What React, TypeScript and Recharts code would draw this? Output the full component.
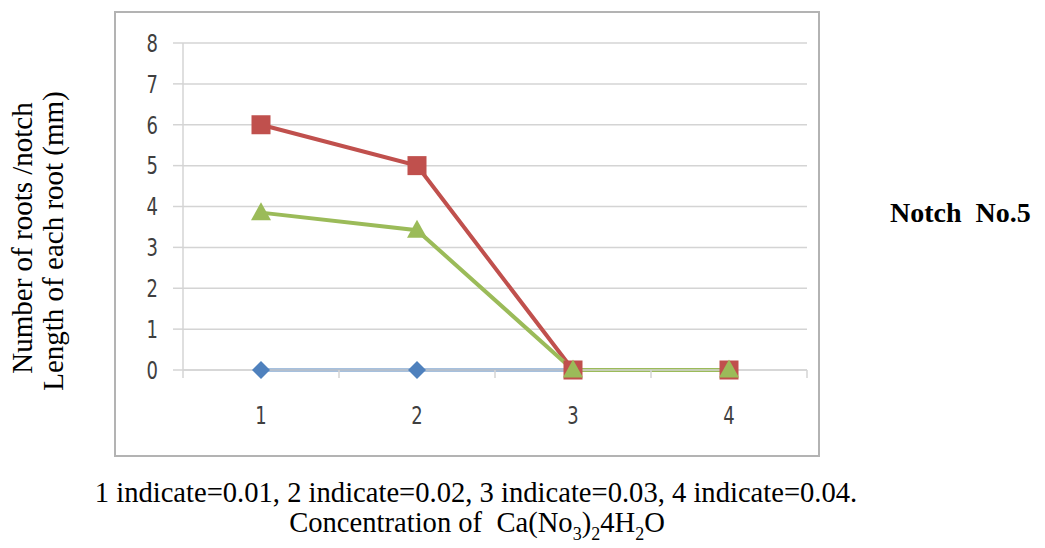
import React from 'react';
import { LineChart, Line, XAxis, YAxis, CartesianGrid } from 'recharts';

// concentration index (1 = 0.01 ... 4 = 0.04)
const concentrations = [1, 2, 3, 4];
const blueSeries = [0, 0, 0, 0];
const redSeries = [6, 5, 0, 0];
const greenSeries = [3.85, 3.42, 0, 0];
const yTicks = [0, 1, 2, 3, 4, 5, 6, 7, 8];
// integer ticks carry labels, half ticks are the band boundaries
const xTicks = [0.5, 1, 1.5, 2, 2.5, 3, 3.5, 4, 4.5];

const data = concentrations.map((c, i) => ({
  x: c,
  blue: blueSeries[i],
  red: redSeries[i],
  green: greenSeries[i],
}));

const GRID = '#d4d4d4';
const TICK_FONT = '"DejaVu Sans Condensed", "Liberation Sans Narrow", Roboto, sans-serif';
const X_MARGIN = 45;

// eslint-disable-next-line @typescript-eslint/no-explicit-any
const YTick = ({ x, y, payload }: any) => (
  <g transform={`translate(${x},${y}) scale(1,1.25)`}>
    <text x={0} y={0} textAnchor="end" dominantBaseline="central" fill="#3f3f3f" fontSize={20} fontFamily={TICK_FONT}>
      {payload.value}
    </text>
  </g>
);

// eslint-disable-next-line @typescript-eslint/no-explicit-any
const XTick = ({ x, y, payload }: any) => {
  const axisY = y - X_MARGIN;
  if (!Number.isInteger(payload.value)) {
    return <line x1={x} x2={x} y1={axisY} y2={axisY + 8} stroke={GRID} strokeWidth={1.5} />;
  }
  return (
    <g transform={`translate(${x},${y}) scale(1,1.25)`}>
      <text x={0} y={0} textAnchor="middle" dominantBaseline="central" fill="#3f3f3f" fontSize={20} fontFamily={TICK_FONT}>
        {payload.value}
      </text>
    </g>
  );
};

// eslint-disable-next-line @typescript-eslint/no-explicit-any
const Diamond = (p: any) => {
  const { cx, cy } = p;
  if (cx == null || cy == null) return <g key={p.index} />;
  return (
    <polygon
      key={p.index}
      points={`${cx},${cy - 9} ${cx + 9},${cy} ${cx},${cy + 9} ${cx - 9},${cy}`}
      fill="#4f81bd"
    />
  );
};

// eslint-disable-next-line @typescript-eslint/no-explicit-any
const Square = (p: any) => {
  const { cx, cy } = p;
  if (cx == null || cy == null) return <g key={p.index} />;
  return <rect key={p.index} x={cx - 9.5} y={cy - 9.5} width={19} height={19} fill="#c0504d" />;
};

// eslint-disable-next-line @typescript-eslint/no-explicit-any
const Triangle = (p: any) => {
  const { cx, cy } = p;
  if (cx == null || cy == null) return <g key={p.index} />;
  return (
    <polygon
      key={p.index}
      points={`${cx},${cy - 10.5} ${cx + 10},${cy + 7.5} ${cx - 10},${cy + 7.5}`}
      fill="#9bbb59"
    />
  );
};

const serif = '"Liberation Serif", "Times New Roman", serif';

export default function App() {
  return (
    <div style={{ position: 'absolute', left: 0, top: 0, width: 1045, height: 548, background: '#fff' }}>
      <div
        style={{
          position: 'absolute',
          left: 114,
          top: 11,
          width: 702,
          height: 442,
          border: '2px solid #b3b3b3',
          boxSizing: 'content-box',
        }}
      />
      <div style={{ position: 'absolute', left: 0, top: 0 }}>
        <LineChart width={1045} height={548} data={data} margin={{ top: 43, right: 238, bottom: 148, left: 123 }}>
          <CartesianGrid horizontal vertical={false} stroke={GRID} strokeWidth={1.5} />
          <XAxis
            dataKey="x"
            type="number"
            domain={[0.5, 4.5]}
            ticks={xTicks}
            interval={0}
            height={30}
            tickSize={0}
            tickMargin={X_MARGIN}
            tickLine={false}
            axisLine={{ stroke: GRID, strokeWidth: 1.5 }}
            tick={<XTick />}
          />
          <YAxis
            type="number"
            domain={[0, 8]}
            ticks={yTicks}
            interval={0}
            width={60}
            tickSize={10}
            tickMargin={15}
            tickLine={{ stroke: GRID, strokeWidth: 1.5 }}
            axisLine={{ stroke: GRID, strokeWidth: 1.5 }}
            tick={<YTick />}
          />
          <Line dataKey="blue" stroke="#4f81bd" strokeWidth={3} dot={Diamond} isAnimationActive={false} />
          <Line dataKey="red" stroke="#c0504d" strokeWidth={4} dot={Square} isAnimationActive={false} />
          <Line dataKey="green" stroke="#9bbb59" strokeWidth={4} dot={Triangle} isAnimationActive={false} />
        </LineChart>
      </div>
      <svg
        width={1045}
        height={548}
        style={{ position: 'absolute', left: 0, top: 0, pointerEvents: 'none' }}
        fontFamily={serif}
        fill="#000"
      >
        <text transform="translate(32,238) rotate(-90)" textAnchor="middle" fontSize={29}>
          Number of roots /notch
        </text>
        <text transform="translate(63,241) rotate(-90)" textAnchor="middle" fontSize={29}>
          Length of each root (mm)
        </text>
        <text x={890} y={222} fontSize={28} fontWeight="bold">
          {'Notch\u00a0 No.5'}
        </text>
        <text x={476} y={502} textAnchor="middle" fontSize={28.6}>
          1 indicate=0.01, 2 indicate=0.02, 3 indicate=0.03, 4 indicate=0.04.
        </text>
        <text x={477} y={532} textAnchor="middle" fontSize={28.6}>
          {'Concentration of\u00a0 Ca(No'}
          <tspan fontSize={18} dy={8}>3</tspan>
          <tspan dy={-8}>)</tspan>
          <tspan fontSize={18} dy={8}>2</tspan>
          <tspan dy={-8}>4H</tspan>
          <tspan fontSize={18} dy={8}>2</tspan>
          <tspan dy={-8}>O</tspan>
        </text>
      </svg>
    </div>
  );
}
